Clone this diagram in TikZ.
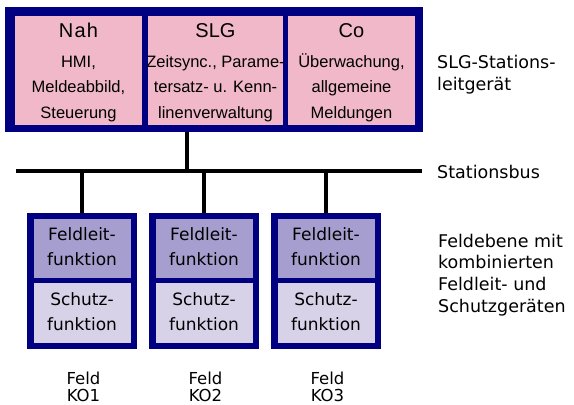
\documentclass[tikz,border=0pt]{standalone}
\usepackage{fontspec}
\setmainfont{DejaVu Sans}
\newfontfamily\arialfont{Liberation Sans}
\definecolor{frame}{RGB}{0,0,128}
\definecolor{rose}{RGB}{240,184,200}
\definecolor{lila}{RGB}{166,158,206}
\definecolor{lilalight}{RGB}{216,210,232}

\begin{document}
\begin{tikzpicture}[x=1pt,y=-1pt,
  frm/.style={rectangle, draw=none, fill=frame, inner sep=0pt},
  pane/.style={rectangle, draw=none, inner sep=0pt},
  ttl/.style={anchor=base, inner sep=0pt, font=\arialfont\fontsize{20}{24}\selectfont},
  bdy/.style={anchor=base, inner sep=0pt, font=\arialfont\fontsize{16.5}{20}\selectfont},
  fld/.style={anchor=base, inner sep=0pt, font=\fontsize{17}{20}\selectfont},
  tag/.style={anchor=base, inner sep=0pt, font=\fontsize{16.5}{20}\selectfont},
  side/.style={anchor=base west, inner sep=0pt, font=\fontsize{17.5}{20}\selectfont},
  bus/.style={line width=3.5pt}]

\useasboundingbox (0,0) rectangle (574,405);

% station unit with its three panes
\node[frm, minimum width=418, minimum height=125] (slg) at (214,69.5) {};
\node[pane, fill=rose, minimum width=127, minimum height=109] (nah) at (78.5,70.5) {};
\node[pane, fill=rose, minimum width=135, minimum height=109] (slgp) at (215.5,70.5) {};
\node[pane, fill=rose, minimum width=127, minimum height=109] (co) at (351.5,70.5) {};

\node[ttl] (nah0) at (nah.center |- 0,37) {N\kern1.2pt a\kern1.2pt h};
\node[bdy] (nah1) at (nah.center |- 0,67) {HMI,};
\node[bdy] (nah2) at (nah.center |- 0,92.5) {Meldeabbild,};
\node[bdy] (nah3) at (nah.center |- 0,118) {Steuerung};

\node[ttl] (slg0) at (slgp.center |- 0,37) {SLG};
\node[bdy] (slg1) at (slgp.center |- 0,67) {Zeitsync., Parame-};
\node[bdy] (slg2) at (slgp.center |- 0,92.5) {tersatz- u. Kenn-};
\node[bdy] (slg3) at (slgp.center |- 0,118) {linenverwaltung};

\node[ttl] (co0) at (co.center |- 0,37) {Co};
\node[bdy] (co1) at (co.center |- 0,67) {Überwachung,};
\node[bdy] (co2) at (co.center |- 0,92.5) {allgemeine};
\node[bdy] (co3) at (co.center |- 0,118) {Meldungen};

% station bus
\coordinate (busL) at (16,171);
\coordinate (busR) at (422,171);
\coordinate (tap) at (187,171);
\draw[bus] (busL) -- (busR);
\draw[bus] (slg.south -| tap) -- (tap);

% bay units
\foreach \k/\x in {1/82,2/204,3/326}{
  \node[frm, minimum width=110, minimum height=136] (f\k) at (\x,281) {};
  \node[pane, fill=lila, minimum width=97, minimum height=59] (f\k u) at (\x,248.5) {};
  \node[pane, fill=lilalight, minimum width=97, minimum height=60] (f\k l) at (\x,313) {};
  \node[fld] (f\k a) at (\x,240) {Feldleit-};
  \node[fld] (f\k b) at (\x,265) {funktion};
  \node[fld] (f\k c) at (\x,305) {Schutz-};
  \node[fld] (f\k d) at (\x,330) {funktion};
  \node[tag] (k\k a) at (\x+1.5,384) {Feld};
  \node[tag] (k\k b) at (\x+1.5,401) {KO\k};
  \draw[bus] (f\k.north |- busL) -- (f\k.north);
}

% level captions
\node[side] (c1) at (437,68) {SLG-Stations-};
\node[side] (c2) at (437,90) {leitgerät};
\node[side] (c3) at (437,178) {Stationsbus};
\node[side] (c4) at (438,247) {Feldebene mit};
\node[side] (c5) at (438,268.5) {kombinierten};
\node[side] (c6) at (438,290) {Feldleit- und};
\node[side] (c7) at (438,312) {Schutzgeräten};
\end{tikzpicture}
\end{document}
